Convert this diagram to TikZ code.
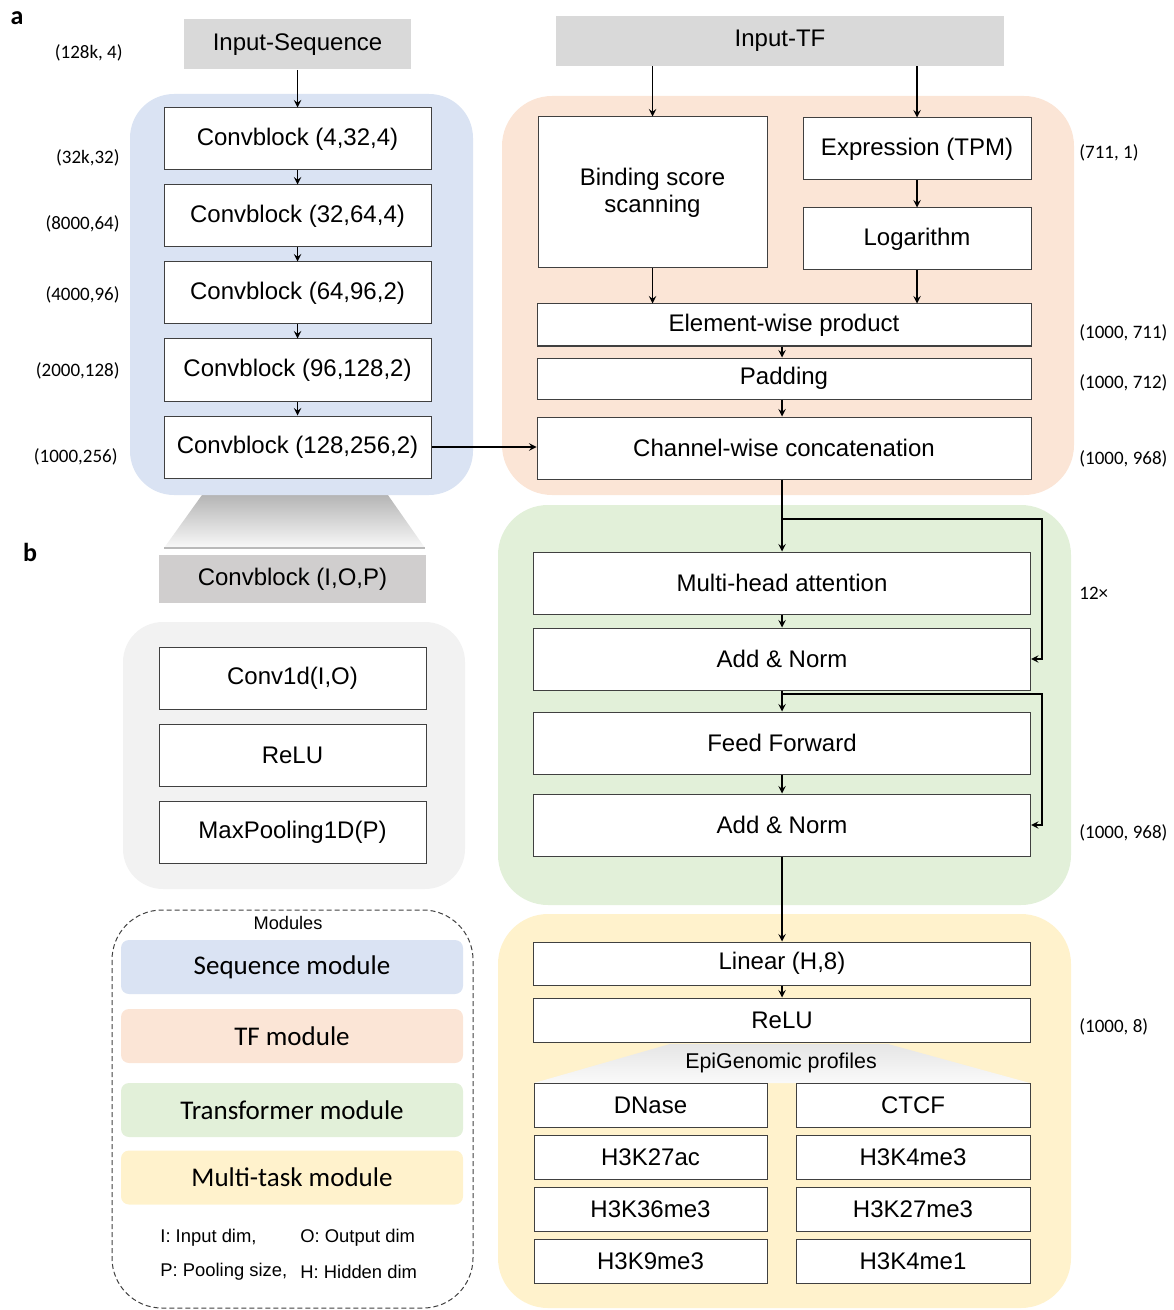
\documentclass[tikz,border=0pt]{standalone}
\usepackage{fontspec}
\setmainfont{Liberation Sans}
\newfontfamily\calfont{Carlito}
\usepackage{tikz}
\usetikzlibrary{shapes.geometric, arrows, positioning, fit, backgrounds}
\usetikzlibrary{calc}

\definecolor{seqblue}{HTML}{DAE3F3}
\definecolor{tforange}{HTML}{FBE5D6}
\definecolor{trgreen}{HTML}{E2F0D9}
\definecolor{mtyellow}{HTML}{FFF2CC}
\definecolor{inputgray}{HTML}{D9D9D9}
\definecolor{blockgray}{HTML}{D0CECE}
\definecolor{panelgray}{HTML}{F2F2F2}
\definecolor{edgegray}{HTML}{404040}

\begin{document}
\begin{tikzpicture}[
    x=0.5pt, y=-0.5pt,
    opbox/.style={rectangle, draw=edgegray, fill=white, line width=0.5pt, minimum height=31pt, inner sep=0pt, align=center, font=\fontsize{12}{13.5}\selectfont},
    inbox/.style={rectangle, fill=inputgray, minimum height=25pt, inner sep=0pt, font=\fontsize{12}{14}\selectfont},
    dimlabel/.style={inner sep=0pt, font=\calfont\fontsize{9.5}{11}\selectfont},
    legbar/.style={rectangle, rounded corners=4pt, minimum width=171pt, minimum height=27pt, inner sep=0pt, font=\calfont\fontsize{13.5}{16}\selectfont},
    keytext/.style={anchor=west, inner sep=0pt, font=\fontsize{9.2}{11}\selectfont},
    panel/.style={inner sep=0pt, font=\calfont\bfseries\fontsize{13}{15}\selectfont},
    arrow/.style={->, >=stealth, line width=0.65pt},
    plain/.style={line width=0.65pt}
]
\useasboundingbox (0,0) rectangle (1173,1310);

% Zoom wedge and background panels
\shade[top color=gray!65, bottom color=gray!5] (207,488) -- (383,488) -- (425,548) -- (164,548) -- cycle;
\draw[gray!55, line width=0.8pt] (164,548) -- (425,548);
\fill[seqblue, rounded corners=22pt] (130,94) rectangle (473,495);
\fill[tforange, rounded corners=25pt] (502,96) rectangle (1074,495);
\fill[trgreen, rounded corners=25pt] (498,505) rectangle (1071,905);
\fill[mtyellow, rounded corners=25pt] (498,914) rectangle (1071,1308);
\fill[panelgray, rounded corners=20pt] (123,622) rectangle (465,889);

% Panel letters
\node[panel] (pa) at (17,18) {a};
\node[panel] (pb) at (30,552) {b};

% Sequence module
\node[inbox, minimum width=113.5pt] (inseq) at (297.5,44.5) {Input-Sequence};
\node[opbox, minimum width=133.5pt] (cb1) at (297.5,139) {Convblock (4,32,4)};
\node[opbox, minimum width=133.5pt, below=7pt of cb1] (cb2) {Convblock (32,64,4)};
\node[opbox, minimum width=133.5pt, below=7pt of cb2] (cb3) {Convblock (64,96,2)};
\node[opbox, minimum width=133.5pt, below=7pt of cb3] (cb4) {Convblock (96,128,2)};
\node[opbox, minimum width=133.5pt, below=7pt of cb4] (cb5) {Convblock (128,256,2)};

\node[dimlabel, anchor=east] (d0) at (123,53) {(128k, 4)};
\node[dimlabel, anchor=east] (d1) at (120,158) {(32k,32)};
\node[dimlabel, anchor=east] (d2) at (120,224) {(8000,64)};
\node[dimlabel, anchor=east] (d3) at (120,295) {(4000,96)};
\node[dimlabel, anchor=east] (d4) at (120,371) {(2000,128)};
\node[dimlabel, anchor=east] (d5) at (118,457) {(1000,256)};

% Convblock detail
\node[inbox, fill=blockgray, minimum width=133.5pt, minimum height=24pt] (iop) at (292.5,579) {Convblock (I,O,P)};
\node[opbox, minimum width=133.5pt] (conv1d) at (292.5,678) {Conv1d(I,O)};
\node[opbox, minimum width=133.5pt, below=7pt of conv1d] (relu1) {ReLU};
\node[opbox, minimum width=133.5pt, below=7pt of relu1] (maxpool) {MaxPooling1D(P)};

% TF module
\node[inbox, minimum width=224pt] (intf) at (780,41) {Input-TF};
\node[opbox, minimum width=114.5pt, minimum height=75.5pt] (bind) at (652.5,192.5) {Binding score\\scanning};
\node[opbox, minimum width=114pt] (expr) at (917,149) {Expression (TPM)};
\node[opbox, minimum width=114pt, below=13.5pt of expr] (logar) {Logarithm};
\node[opbox, minimum width=247pt, minimum height=21pt] (elem) at (784,325) {Element-wise product};
\node[opbox, minimum width=247pt, minimum height=20.5pt, below=5.5pt of elem] (pad) {Padding};
\node[opbox, minimum width=247pt, below=8.5pt of pad] (concat) {Channel-wise concatenation};

\node[dimlabel, anchor=west] (d6) at (1079,153) {(711, 1)};
\node[dimlabel, anchor=west] (d7) at (1079,333) {(1000, 711)};
\node[dimlabel, anchor=west] (d8) at (1079,383) {(1000, 712)};
\node[dimlabel, anchor=west] (d9) at (1079,459) {(1000, 968)};

% Transformer module
\node[opbox, minimum width=248.5pt] (mha) at (782,583) {Multi-head attention};
\node[opbox, minimum width=248.5pt, below=6.5pt of mha] (an1) {Add \& Norm};
\node[opbox, minimum width=248.5pt, below=10.5pt of an1] (ff) {Feed Forward};
\node[opbox, minimum width=248.5pt, below=9.5pt of ff] (an2) {Add \& Norm};
\coordinate (br1) at (782,519);
\coordinate (br2) at (782,694);

\node[dimlabel, anchor=west] (rep) at (1079,593) {12×};
\node[dimlabel, anchor=west] (d10) at (1079,833) {(1000, 968)};

% Multi-task module
\node[opbox, minimum width=248.5pt, minimum height=21.5pt] (linear) at (782,963.5) {Linear (H,8)};
\node[opbox, minimum width=248.5pt, minimum height=22pt, below=6pt of linear] (relu2) {ReLU};
\shade[top color=gray!20, middle color=gray!55, bottom color=gray!4] (670,1044) -- (888,1044) -- (1030,1083) -- (534,1083) -- cycle;
\node[inner sep=0pt, font=\fontsize{10.7}{12}\selectfont] (epi) at (781,1063) {EpiGenomic profiles};
\node[opbox, minimum width=116.5pt, minimum height=22pt] (dnase) at (650.5,1105) {DNase};
\node[opbox, minimum width=116.5pt, minimum height=22pt, below=3.5pt of dnase] (h3k27ac) {H3K27ac};
\node[opbox, minimum width=116.5pt, minimum height=22pt, below=3.5pt of h3k27ac] (h3k36) {H3K36me3};
\node[opbox, minimum width=116.5pt, minimum height=22pt, below=3.5pt of h3k36] (h3k9) {H3K9me3};
\node[opbox, minimum width=117pt, minimum height=22pt] (ctcf) at (913,1105) {CTCF};
\node[opbox, minimum width=117pt, minimum height=22pt, below=3.5pt of ctcf] (h3k4me3) {H3K4me3};
\node[opbox, minimum width=117pt, minimum height=22pt, below=3.5pt of h3k4me3] (h3k27me3) {H3K27me3};
\node[opbox, minimum width=117pt, minimum height=22pt, below=3.5pt of h3k27me3] (h3k4me1) {H3K4me1};

\node[dimlabel, anchor=west] (d11) at (1079,1027) {(1000, 8)};

% Legend
\draw[edgegray, line width=0.5pt, dash pattern=on 2.5pt off 1.5pt, rounded corners=25pt] (112,910) rectangle (473,1308);
\node[inner sep=0pt, font=\fontsize{9.1}{11}\selectfont] (modtitle) at (288,923) {Modules};
\node[legbar, fill=seqblue] (legseq) at (292,967) {Sequence module};
\node[legbar, fill=tforange] (legtf) at (292,1036) {TF module};
\node[legbar, fill=trgreen] (legtr) at (292,1110) {Transformer module};
\node[legbar, fill=mtyellow] (legmt) at (292,1177.5) {Multi-task module};
\node[keytext] (keyi) at (160,1238) {I: Input dim,};
\node[keytext] (keyo) at (300,1238) {O: Output dim};
\node[keytext] (keyp) at (160,1272) {P: Pooling size,};
\node[keytext] (keyh) at (300,1272) {H: Hidden dim};

% Arrows
\draw[arrow] (inseq) -- (cb1);
\draw[arrow] (cb1) -- (cb2);
\draw[arrow] (cb2) -- (cb3);
\draw[arrow] (cb3) -- (cb4);
\draw[arrow] (cb4) -- (cb5);
\draw[arrow] (cb5.east) -- (cb5.east -| concat.west);
\draw[arrow] (intf.south -| bind.north) -- (bind.north);
\draw[arrow] (intf.south -| expr.north) -- (expr.north);
\draw[arrow] (expr) -- (logar);
\draw[arrow] (bind.south) -- (bind.south |- elem.north);
\draw[arrow] (logar.south) -- (logar.south |- elem.north);
\draw[arrow] (elem.south -| br1) -- (pad.north -| br1);
\draw[arrow] (pad.south -| br1) -- (concat.north -| br1);
\draw[arrow] (concat.south -| br1) -- (mha.north);
\draw[arrow] (br1) -- ++(260,0) |- (an1.east);
\draw[arrow] (mha) -- (an1);
\draw[arrow] (an1) -- (ff);
\draw[arrow] (br2) -- ++(260,0) |- (an2.east);
\draw[arrow] (ff) -- (an2);
\draw[arrow] (an2) -- (linear);
\draw[arrow] (linear) -- (relu2);

\end{tikzpicture}
\end{document}
